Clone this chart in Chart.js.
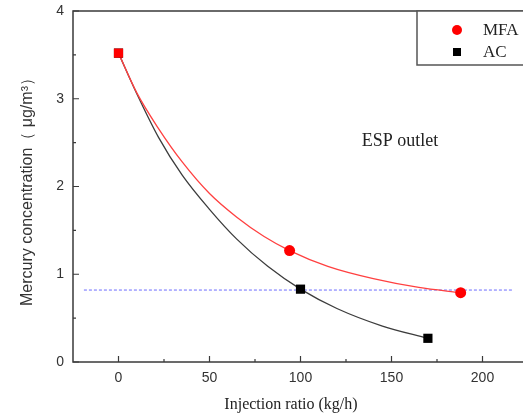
<!DOCTYPE html>
<html>
<head>
<meta charset="utf-8">
<script src="https://cdn.jsdelivr.net/npm/chart.js"></script>
<style>
  html, body { margin: 0; padding: 0; background: #fff; overflow: hidden; }
  #wrap { width: 540px; height: 415px; }
</style>
</head>
<body>
<div id="wrap"><canvas id="hgChart" width="540" height="415"></canvas></div>
<script>
// Mercury concentration at ESP outlet vs. sorbent injection ratio
// measured points
const mfaRatio = [0, 94, 188];
const mfaHg = [3.52, 1.27, 0.79];
const acRatio = [0, 100, 170];
const acHg = [3.52, 0.83, 0.27];
// fitted decay curves
const mfaFitRatio = [0, 10, 22, 35, 50, 65, 80, 94, 115, 140, 165, 188];
const mfaFitHg = [3.52, 3.07, 2.66, 2.28, 1.92, 1.65, 1.43, 1.27, 1.09, 0.95, 0.85, 0.79];
const acFitRatio = [0, 10, 22, 35, 50, 65, 82, 100, 120, 145, 170];
const acFitHg = [3.52, 3.06, 2.56, 2.13, 1.74, 1.40, 1.09, 0.83, 0.61, 0.41, 0.27];
// emission limit line
const limitRatio = [-19, 217];
const limitHg = [0.82, 0.82];
const xTicks = [0, 50, 100, 150, 200];
const yTicks = [0, 1, 2, 3, 4];

const SANS = '"Liberation Sans", Arial, sans-serif';
const SERIF = '"Liberation Serif", "Times New Roman", serif';
const AXIS = '#3a3a3a';

function toPoints(xs, ys) {
    return xs.map((x, i) => ({ x: x, y: ys[i] }));
}

function midpoints(arr) {
    const out = [];
    for (let i = 0; i < arr.length - 1; i++) out.push((arr[i] + arr[i + 1]) / 2);
    return out;
}

// frame, inward ticks, titles, annotation and legend box
const decorations = {
    id: 'decorations',
    afterDraw(chart) {
        const { ctx, chartArea: a, scales } = chart;
        const xs = scales.x, ys = scales.y;
        ctx.save();

        ctx.strokeStyle = AXIS;
        ctx.lineWidth = 1.5;
        ctx.strokeRect(a.left, a.top, a.right - a.left, a.bottom - a.top);

        ctx.lineWidth = 1.2;
        ctx.beginPath();
        xTicks.forEach(v => {
            const px = xs.getPixelForValue(v);
            ctx.moveTo(px, a.bottom); ctx.lineTo(px, a.bottom - 6);
        });
        midpoints(xTicks).concat([xTicks[xTicks.length - 1] + 25]).forEach(v => {
            const px = xs.getPixelForValue(v);
            ctx.moveTo(px, a.bottom); ctx.lineTo(px, a.bottom - 3);
        });
        yTicks.forEach(v => {
            const py = ys.getPixelForValue(v);
            ctx.moveTo(a.left, py); ctx.lineTo(a.left + 6, py);
        });
        midpoints(yTicks).forEach(v => {
            const py = ys.getPixelForValue(v);
            ctx.moveTo(a.left, py); ctx.lineTo(a.left + 3, py);
        });
        ctx.stroke();

        ctx.fillStyle = '#222';
        ctx.textAlign = 'center';
        ctx.textBaseline = 'middle';

        ctx.font = '16px ' + SERIF;
        ctx.fillText('Injection ratio (kg/h)', 291, 405);

        ctx.font = '18px ' + SERIF;
        ctx.fillText('ESP outlet', 400, 141);

        ctx.save();
        ctx.translate(28, 188);
        ctx.rotate(-Math.PI / 2);
        ctx.fillStyle = '#333';
        ctx.font = '16px ' + SANS;
        ctx.fillText('Mercury concentration（ μg/m³）', 0, 0);
        ctx.restore();

        // legend box
        const lx = 417, ly = a.top, lh = 54;
        ctx.fillStyle = '#fff';
        ctx.fillRect(lx, ly, chart.width - lx, lh);
        ctx.strokeStyle = '#555';
        ctx.lineWidth = 1.5;
        ctx.strokeRect(lx, ly, chart.width - lx + 5, lh);

        const entries = chart.data.datasets.slice(0, 2);
        entries.forEach((ds, i) => {
            const cy = ly + 19 + i * 22;
            ctx.fillStyle = ds.pointBackgroundColor;
            if (ds.label === 'MFA') {
                ctx.beginPath();
                ctx.arc(457, cy, 5, 0, Math.PI * 2);
                ctx.fill();
            } else {
                ctx.fillRect(453, cy - 4, 8, 8);
            }
            ctx.fillStyle = '#222';
            ctx.font = '17px ' + SERIF;
            ctx.textAlign = 'left';
            ctx.fillText(ds.label, 483, cy + 1);
        });

        ctx.restore();
    }
};

new Chart(document.getElementById('hgChart'), {
    type: 'scatter',
    data: {
        datasets: [
            {
                label: 'MFA',
                data: toPoints(mfaRatio, mfaHg),
                showLine: false,
                pointStyle: ['rect', 'circle', 'circle'],
                pointRadius: [6.5, 5.5, 5.5],
                pointBackgroundColor: '#ff0000',
                pointBorderColor: '#ff0000',
                pointBorderWidth: 0
            },
            {
                label: 'AC',
                data: toPoints(acRatio, acHg),
                showLine: false,
                pointStyle: 'rect',
                pointRadius: 6.5,
                pointBackgroundColor: '#000000',
                pointBorderColor: '#000000',
                pointBorderWidth: 0
            },
            {
                label: 'MFA fit',
                data: toPoints(mfaFitRatio, mfaFitHg),
                showLine: true,
                cubicInterpolationMode: 'monotone',
                borderColor: '#ff4040',
                borderWidth: 1.3,
                pointRadius: 0
            },
            {
                label: 'AC fit',
                data: toPoints(acFitRatio, acFitHg),
                showLine: true,
                cubicInterpolationMode: 'monotone',
                borderColor: '#3c3c3c',
                borderWidth: 1.3,
                pointRadius: 0
            },
            {
                label: 'limit',
                data: toPoints(limitRatio, limitHg),
                showLine: true,
                borderColor: '#6b6bff',
                borderWidth: 1,
                borderDash: [3, 2],
                pointRadius: 0
            }
        ]
    },
    options: {
        responsive: false,
        animation: false,
        events: [],
        layout: { padding: { top: 11, right: 12, bottom: 0, left: 0 } },
        plugins: { legend: { display: false }, tooltip: { enabled: false } },
        scales: {
            x: {
                type: 'linear',
                min: -25,
                max: 225,
                afterFit: s => { s.height = 53; s.paddingLeft = 0; s.paddingRight = 0; },
                afterBuildTicks: s => { s.ticks = xTicks.map(v => ({ value: v })); },
                grid: { display: false, drawTicks: false },
                border: { display: false },
                ticks: { padding: 8, color: '#333', font: { family: SANS, size: 14 } }
            },
            y: {
                min: 0,
                max: 4,
                afterFit: s => { s.width = 73; s.paddingTop = 0; s.paddingBottom = 0; },
                afterBuildTicks: s => { s.ticks = yTicks.map(v => ({ value: v })); },
                grid: { display: false, drawTicks: false },
                border: { display: false },
                ticks: { padding: 9, color: '#333', font: { family: SANS, size: 14 } }
            }
        }
    },
    plugins: [decorations]
});
</script>
</body>
</html>
